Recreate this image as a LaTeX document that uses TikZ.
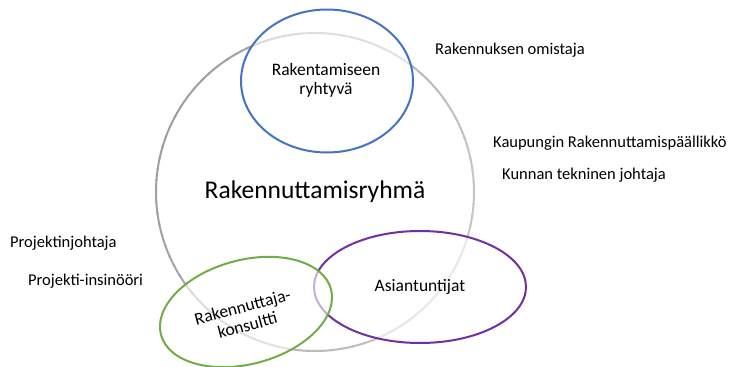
\documentclass[tikz,border=0pt]{standalone}
\usepackage{fontspec}
\setmainfont{Carlito}
\usetikzlibrary{shapes.geometric}
\definecolor{cblue}{HTML}{4472C4}
\definecolor{cgreen}{HTML}{70AD47}
\definecolor{cpurple}{HTML}{7030A0}
\tikzset{
  ring/.style={draw, ellipse, inner sep=0pt, line width=2pt, fill=white, fill opacity=0.6, text opacity=1, align=center, font=\fontsize{17.5}{20}\selectfont},
  label/.style={anchor=west, inner sep=0pt, font=\fontsize{16.5}{20}\selectfont},
  rim/.style={line width=2pt}
}
\begin{document}
\begin{tikzpicture}[x=1pt,y=-1pt]
\useasboundingbox (0,0) rectangle (732,367);
\node[circle, minimum size=318pt, inner sep=0pt,
      font=\fontsize{25.5}{30}\selectfont] (group) at (315,192) {Rakennuttamisryhmä};
\foreach \a in {0,4,...,356}{
  \pgfmathsetmacro\p{30+8*cos(\a-200)}
  \draw[rim, color=black!\p] ([shift={(\a:159)}]group.center) arc[start angle=\a, end angle=\a+4.6, radius=159];
}
\node[ring, draw=cblue, minimum width=172pt, minimum height=143pt] (builder) at (327,81) {};
\node[align=center, font=\fontsize{17.5}{19}\selectfont] (buildertext) at (326,80) {Rakentamiseen\\ryhtyvä};
\node[ring, draw=cpurple, minimum width=212pt, minimum height=112pt] (experts) at (420,287) {Asiantuntijat};
\node[ring, draw=cgreen, rotate=15, minimum width=176pt, minimum height=104pt] (consult) at (246,312) {};
\node[rotate=15, align=center, font=\fontsize{17.5}{19}\selectfont] (consulttext) at (245,316) {Rakennuttaja-\\konsultti};
\node[label] (owner) at (435,50) {Rakennuksen omistaja};
\node[label] (city) at (493,143) {Kaupungin Rakennuttamispäällikkö};
\node[label] (muni) at (502,175) {Kunnan tekninen johtaja};
\node[label] (pm) at (10,243) {Projektinjohtaja};
\node[label] (pe) at (28,281) {Projekti-insinööri};
\end{tikzpicture}
\end{document}
